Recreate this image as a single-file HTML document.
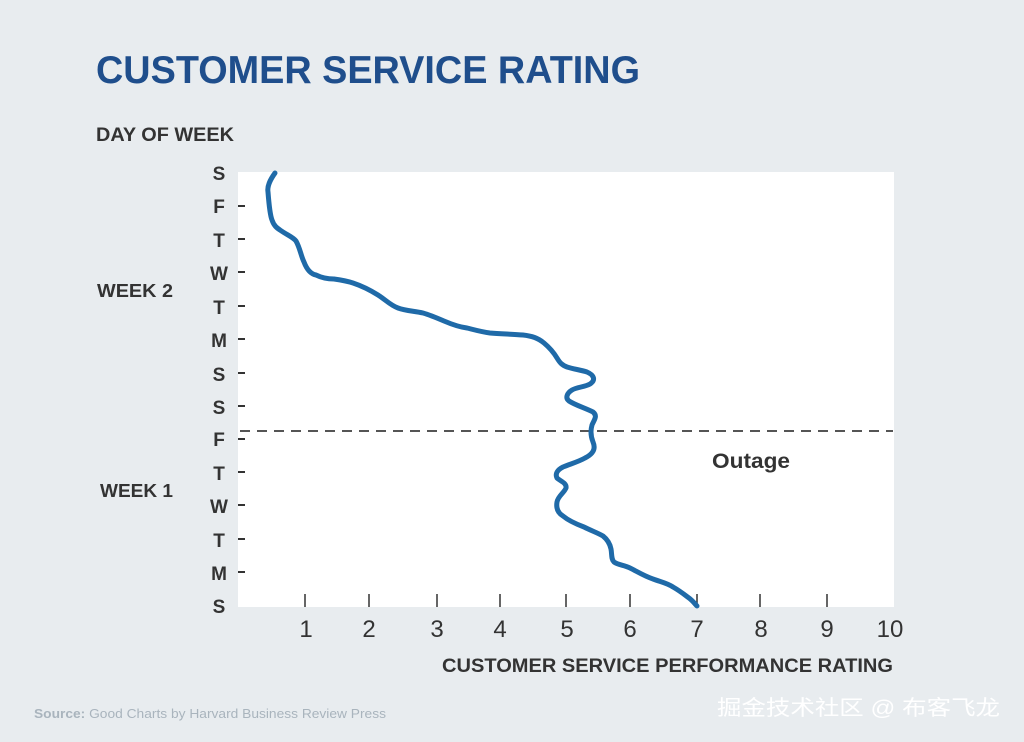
<!DOCTYPE html>
<html><head><meta charset="utf-8"><style>
html,body{margin:0;padding:0;background:#e8ecef;}
svg{display:block;}
text{font-family:"Liberation Sans",sans-serif;}
</style></head><body>
<svg width="1024" height="742" viewBox="0 0 1024 742" xmlns="http://www.w3.org/2000/svg">
<rect width="1024" height="742" fill="#e8ecef"/>
<text x="96" y="83" font-size="39" font-weight="bold" fill="#1f4e8c" textLength="544" lengthAdjust="spacingAndGlyphs">CUSTOMER SERVICE RATING</text>
<text x="96" y="141" font-size="19" font-weight="bold" fill="#333" textLength="138" lengthAdjust="spacingAndGlyphs">DAY OF WEEK</text>
<rect x="238" y="172" width="656" height="435" fill="#fff"/>
<g font-size="19" font-weight="bold" fill="#333" text-anchor="middle">
<text x="219" y="180">S</text><text x="219" y="213">F</text><text x="219" y="247">T</text>
<text x="219" y="280">W</text><text x="219" y="314">T</text><text x="219" y="347">M</text>
<text x="219" y="381">S</text><text x="219" y="414">S</text><text x="219" y="446">F</text>
<text x="219" y="480">T</text><text x="219" y="513">W</text><text x="219" y="547">T</text>
<text x="219" y="580">M</text><text x="219" y="613">S</text>
</g>
<g stroke="#333" stroke-width="2">
<line x1="238" y1="206" x2="245" y2="206"/><line x1="238" y1="239" x2="245" y2="239"/>
<line x1="238" y1="272" x2="245" y2="272"/><line x1="238" y1="306" x2="245" y2="306"/>
<line x1="238" y1="339" x2="245" y2="339"/><line x1="238" y1="373" x2="245" y2="373"/>
<line x1="238" y1="406" x2="245" y2="406"/><line x1="238" y1="439" x2="245" y2="439"/>
<line x1="238" y1="472" x2="245" y2="472"/><line x1="238" y1="505" x2="245" y2="505"/>
<line x1="238" y1="539" x2="245" y2="539"/><line x1="238" y1="572" x2="245" y2="572"/>
</g>
<g stroke="#333" stroke-width="1.5">
<line x1="305" y1="594" x2="305" y2="607"/><line x1="369" y1="594" x2="369" y2="607"/>
<line x1="437" y1="594" x2="437" y2="607"/><line x1="500" y1="594" x2="500" y2="607"/>
<line x1="566" y1="594" x2="566" y2="607"/><line x1="630" y1="594" x2="630" y2="607"/>
<line x1="697" y1="594" x2="697" y2="607"/><line x1="760" y1="594" x2="760" y2="607"/>
<line x1="827" y1="594" x2="827" y2="607"/>
</g>
<g font-size="24" fill="#333" text-anchor="middle">
<text x="306" y="637">1</text><text x="369" y="637">2</text><text x="437" y="637">3</text>
<text x="500" y="637">4</text><text x="567" y="637">5</text><text x="630" y="637">6</text>
<text x="697" y="637">7</text><text x="761" y="637">8</text><text x="827" y="637">9</text>
<text x="890" y="637">10</text>
</g>
<text x="442" y="672" font-size="19" font-weight="bold" fill="#333" textLength="451" lengthAdjust="spacingAndGlyphs">CUSTOMER SERVICE PERFORMANCE RATING</text>
<text x="97" y="297" font-size="18" font-weight="bold" fill="#333" textLength="76" lengthAdjust="spacingAndGlyphs">WEEK 2</text>
<text x="100" y="497" font-size="18" font-weight="bold" fill="#333" textLength="73" lengthAdjust="spacingAndGlyphs">WEEK 1</text>
<line x1="240" y1="431" x2="893" y2="431" stroke="#555" stroke-width="2" stroke-dasharray="10,7"/>
<text x="712" y="468" font-size="21" font-weight="bold" fill="#333" textLength="78" lengthAdjust="spacingAndGlyphs">Outage</text>
<path fill="none" stroke="#1f6aa8" stroke-width="5" stroke-linecap="round" stroke-linejoin="round"
d="M275,173 C270,180 267,186 268,192 C269,205 270,215 272,220 C274,226 277,228 280,230 C287,235 293,237 296,241 C300,248 301,256 304,262 C307,270 311,274 316,275 C322,278 328,279 334,279 C341,280 347,281 353,283 C362,286 370,290 378,295 C386,300 390,305 398,308 C406,311 415,311 423,313 C430,315 437,318 444,321 C451,324 459,327 467,328 C475,330 482,332 490,333 C501,334 512,334 523,335 C532,336 538,338 544,343 C550,348 554,353 557,358 C560,363 562,365 567,367 C573,369 581,370 587,372 C594,375 596,380 590,384 C585,387 577,387 572,390 C567,393 565,398 569,401 C575,405 585,408 593,412 C598,416 594,420 592,425 C590,432 591,437 593,442 C596,449 593,454 585,458 C578,462 570,464 563,467 C557,470 555,474 557,478 C560,481 567,483 566,488 C564,493 558,496 557,502 C556,508 558,513 563,516 C569,521 576,524 584,527 C592,531 598,533 603,536 C608,540 610,544 611,549 C612,554 611,559 614,562 C618,565 624,565 630,568 C638,572 644,576 653,579 C661,582 667,583 673,587 C680,591 685,595 689,598 C693,601 695,604 697,606"/>
<text x="34" y="718" font-size="12.5" fill="#a9b4bd" textLength="352" lengthAdjust="spacingAndGlyphs"><tspan font-weight="bold">Source:</tspan> Good Charts by Harvard Business Review Press</text>
<text x="717" y="715" font-size="21" fill="#fff" textLength="283" lengthAdjust="spacingAndGlyphs" style="font-family:'Liberation Sans','Noto Sans CJK SC',sans-serif">掘金技术社区 @ 布客飞龙</text>
</svg>
</body></html>
